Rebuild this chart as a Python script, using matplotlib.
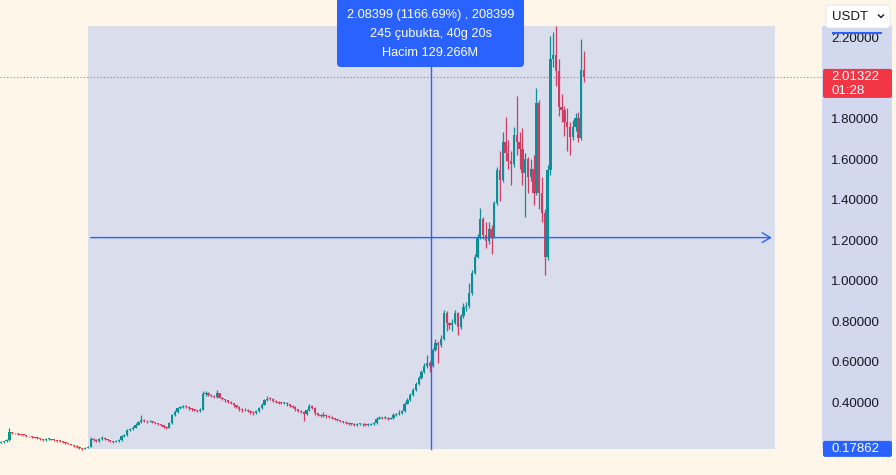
import numpy as np
import matplotlib.pyplot as plt
from matplotlib.patches import FancyBboxPatch, Rectangle

plt.rcParams['font.family'] = ['Liberation Sans', 'DejaVu Sans']

# 4h candles (open = previous close)
first_open = 0.210
closes = [0.212, 0.216, 0.222, 0.262, 0.256, 0.255, 0.252, 0.249, 0.246, 0.243,
          0.240, 0.238, 0.234, 0.231, 0.227, 0.222, 0.226, 0.228, 0.224, 0.222,
          0.219, 0.216, 0.213, 0.209, 0.205, 0.200, 0.195, 0.189, 0.182, 0.179,
          0.184, 0.190, 0.228, 0.223, 0.219, 0.226, 0.233, 0.227, 0.222, 0.218,
          0.215, 0.217, 0.221, 0.240, 0.247, 0.271, 0.277, 0.283, 0.298, 0.313,
          0.322, 0.317, 0.314, 0.316, 0.310, 0.305, 0.300, 0.295, 0.289, 0.284,
          0.305, 0.345, 0.362, 0.378, 0.385, 0.389, 0.386, 0.378, 0.373, 0.370,
          0.366, 0.372, 0.448, 0.456, 0.446, 0.440, 0.436, 0.452, 0.432, 0.425,
          0.418, 0.412, 0.404, 0.393, 0.385, 0.373, 0.368, 0.371, 0.366, 0.360,
          0.356, 0.364, 0.380, 0.397, 0.420, 0.426, 0.424, 0.416, 0.410, 0.406,
          0.404, 0.405, 0.398, 0.392, 0.384, 0.373, 0.367, 0.362, 0.352, 0.370,
          0.392, 0.380, 0.355, 0.348, 0.342, 0.347, 0.340, 0.336, 0.330, 0.326,
          0.320, 0.316, 0.311, 0.306, 0.302, 0.300, 0.297, 0.301, 0.303, 0.299,
          0.297, 0.298, 0.300, 0.304, 0.328, 0.333, 0.330, 0.333, 0.328, 0.331,
          0.345, 0.350, 0.357, 0.363, 0.402, 0.421, 0.445, 0.471, 0.500, 0.530,
          0.558, 0.585, 0.602, 0.588, 0.666, 0.701, 0.690, 0.722, 0.850, 0.800,
          0.789, 0.801, 0.850, 0.780, 0.832, 0.878, 0.882, 0.947, 1.046, 1.125,
          1.224, 1.310, 1.232, 1.206, 1.262, 1.226, 1.391, 1.554, 1.505, 1.692,
          1.640, 1.600, 1.585, 1.727, 1.690, 1.660, 1.540, 1.610, 1.520, 1.560,
          1.440, 1.885, 1.440, 1.342, 1.125, 1.554, 2.100, 2.121, 2.040, 1.865,
          1.850, 1.790, 1.766, 1.717, 1.766, 1.812, 1.712, 2.047, 2.01322]
highs = [0.216, 0.219, 0.225, 0.281, 0.264, 0.259, 0.256, 0.252, 0.249, 0.247,
         0.243, 0.241, 0.239, 0.235, 0.231, 0.228, 0.231, 0.232, 0.229, 0.225,
         0.223, 0.220, 0.217, 0.213, 0.210, 0.205, 0.200, 0.196, 0.191, 0.184,
         0.188, 0.194, 0.236, 0.231, 0.225, 0.230, 0.240, 0.235, 0.228, 0.223,
         0.219, 0.221, 0.226, 0.246, 0.254, 0.278, 0.284, 0.290, 0.304, 0.318,
         0.344, 0.326, 0.320, 0.321, 0.318, 0.313, 0.306, 0.302, 0.297, 0.292,
         0.310, 0.350, 0.368, 0.384, 0.392, 0.396, 0.393, 0.388, 0.380, 0.376,
         0.372, 0.378, 0.462, 0.466, 0.460, 0.450, 0.446, 0.468, 0.455, 0.436,
         0.426, 0.420, 0.414, 0.406, 0.395, 0.388, 0.378, 0.378, 0.375, 0.368,
         0.364, 0.370, 0.386, 0.403, 0.426, 0.438, 0.433, 0.428, 0.418, 0.414,
         0.412, 0.412, 0.409, 0.401, 0.394, 0.388, 0.376, 0.371, 0.366, 0.376,
         0.398, 0.394, 0.384, 0.356, 0.352, 0.362, 0.350, 0.344, 0.339, 0.333,
         0.328, 0.323, 0.318, 0.314, 0.309, 0.306, 0.304, 0.306, 0.308, 0.307,
         0.304, 0.304, 0.305, 0.309, 0.334, 0.340, 0.337, 0.339, 0.337, 0.336,
         0.358, 0.356, 0.368, 0.370, 0.409, 0.430, 0.452, 0.478, 0.510, 0.538,
         0.566, 0.600, 0.640, 0.610, 0.676, 0.720, 0.712, 0.740, 0.865, 0.860,
         0.805, 0.820, 0.862, 0.852, 0.845, 0.900, 0.905, 0.995, 1.060, 1.140,
         1.240, 1.365, 1.320, 1.300, 1.300, 1.285, 1.400, 1.570, 1.650, 1.740,
         1.815, 1.700, 1.650, 1.765, 1.920, 1.740, 1.760, 1.640, 1.620, 1.610,
         1.630, 1.960, 1.900, 1.520, 1.360, 1.580, 2.215, 2.235, 2.262, 2.100,
         1.930, 1.870, 1.860, 1.790, 1.800, 1.835, 1.840, 2.200, 2.140]
lows = [0.206, 0.209, 0.214, 0.218, 0.252, 0.251, 0.248, 0.246, 0.242, 0.239,
        0.236, 0.234, 0.230, 0.226, 0.222, 0.218, 0.219, 0.222, 0.220, 0.218,
        0.215, 0.212, 0.209, 0.205, 0.201, 0.196, 0.190, 0.184, 0.177, 0.175,
        0.176, 0.181, 0.187, 0.218, 0.214, 0.215, 0.222, 0.222, 0.217, 0.214,
        0.210, 0.211, 0.214, 0.218, 0.236, 0.244, 0.268, 0.272, 0.280, 0.294,
        0.308, 0.312, 0.308, 0.310, 0.305, 0.300, 0.294, 0.290, 0.284, 0.279,
        0.281, 0.300, 0.340, 0.358, 0.374, 0.380, 0.380, 0.372, 0.367, 0.364,
        0.360, 0.362, 0.368, 0.440, 0.440, 0.434, 0.430, 0.432, 0.428, 0.420,
        0.412, 0.406, 0.398, 0.386, 0.378, 0.366, 0.361, 0.364, 0.360, 0.352,
        0.348, 0.352, 0.360, 0.376, 0.394, 0.416, 0.418, 0.410, 0.404, 0.400,
        0.398, 0.398, 0.392, 0.386, 0.378, 0.366, 0.360, 0.354, 0.318, 0.346,
        0.366, 0.374, 0.346, 0.340, 0.335, 0.336, 0.333, 0.329, 0.324, 0.320,
        0.314, 0.310, 0.306, 0.300, 0.296, 0.294, 0.291, 0.293, 0.296, 0.292,
        0.291, 0.292, 0.294, 0.297, 0.300, 0.324, 0.324, 0.326, 0.322, 0.324,
        0.328, 0.340, 0.346, 0.352, 0.360, 0.398, 0.415, 0.440, 0.464, 0.494,
        0.524, 0.552, 0.578, 0.560, 0.580, 0.660, 0.600, 0.680, 0.715, 0.760,
        0.770, 0.760, 0.795, 0.740, 0.772, 0.825, 0.860, 0.875, 0.940, 1.040,
        1.120, 1.215, 1.215, 1.170, 1.190, 1.140, 1.220, 1.380, 1.400, 1.495,
        1.600, 1.560, 1.480, 1.570, 1.630, 1.560, 1.480, 1.320, 1.440, 1.500,
        1.380, 1.430, 1.360, 1.300, 1.036, 1.110, 1.530, 2.060, 1.970, 1.820,
        1.790, 1.720, 1.650, 1.630, 1.700, 1.745, 1.690, 1.700, 1.990]

price_ticks = [0.4, 0.6, 0.8, 1.0, 1.2, 1.4, 1.6, 1.8, 2.2]

# date/price range tool
range_start = 31
range_bars = 245
range_low = 0.17862
range_change = 2.08399
tooltip_lines = ['2.08399 (1166.69%) , 208399', '245 çubukta, 40g 20s', 'Hacim 129.266M']
countdown = '01:28'

BG = '#fdf6e9'
UP = '#089981'
DOWN = '#f23645'
BLUE = '#2962ff'

o = np.array([first_open] + closes[:-1])
c = np.array(closes)
h = np.array(highs)
l = np.array(lows)
idx = np.arange(len(c))
cols = np.where(c >= o, UP, DOWN)

W, H = 896, 475
fig = plt.figure(figsize=(W / 100, H / 100), dpi=100, facecolor=BG)
ax = fig.add_axes([0, 0, 822 / W, 1])
ax.set_facecolor(BG)
ax.set_xlim(-0.36, 292.9)
ax.set_ylim(0.0498, 2.3925)
ax.axis('off')

ax.vlines(idx, l, h, colors=cols, lw=0.9, zorder=2)
ax.bar(idx, np.maximum(np.abs(c - o), 0.004), bottom=np.minimum(o, c),
       width=0.82, color=cols, zorder=2)

range_end = range_start + range_bars
range_high = range_low + range_change
mid_x = (range_start + range_end) / 2
mid_y = (range_low + range_high) / 2
ax.add_patch(Rectangle((range_start, range_low), range_bars, range_change,
                       facecolor=BLUE, alpha=0.17, lw=0, zorder=3))
ax.annotate('', xy=(range_end, mid_y), xytext=(range_start, mid_y),
            arrowprops=dict(arrowstyle='->,head_length=0.6,head_width=0.35',
                            color=BLUE, lw=1), zorder=4)
ax.plot([mid_x, mid_x], [range_low, range_high], color=BLUE, lw=1, zorder=4)
ax.axhline(c[-1], color=DOWN, lw=0.8, ls=(0, (1, 2)), alpha=0.8, zorder=1)

# price scale
sc = fig.add_axes([822 / W, 0, 74 / W, 1])
sc.set_facecolor(BG)
sc.set_xlim(0, 74)
sc.set_ylim(ax.get_ylim())
sc.axis('off')
sc.add_patch(Rectangle((0, range_low), 70, range_change, facecolor=BLUE,
                       alpha=0.2, lw=0))
for t in price_ticks:
    sc.text(9, t, f'{t:.5f}', fontsize=9.5, color='#131722', va='center')


def px_y(v):
    return H - ax.transData.transform((0, v))[1]


# overlay in pixel units for the labels / buttons
ov = fig.add_axes([0, 0, 1, 1], zorder=10)
ov.set_xlim(0, W)
ov.set_ylim(H, 0)
ov.axis('off')
ov.patch.set_alpha(0)

# range labels on the scale (top one sits under the currency button)
yy = px_y(range_low)
ov.add_patch(FancyBboxPatch((823, yy - 8), 69, 16, boxstyle='round,pad=0,rounding_size=2',
                            facecolor=BLUE, lw=0))
ov.text(831, yy, f'{range_low:.5f}', fontsize=9.5, color='white', va='center')
yy = px_y(range_high)
ov.add_patch(Rectangle((832, yy + 6), 50, 2, facecolor=BLUE, lw=0))

# last price label
yy = px_y(c[-1])
ov.add_patch(FancyBboxPatch((823, yy - 8), 69, 29, boxstyle='round,pad=0,rounding_size=2',
                            facecolor=DOWN, lw=0))
ov.text(831, yy, f'{c[-1]:.5f}', fontsize=9.5, color='white', va='center')
ov.text(831, yy + 14, countdown, fontsize=9.5, color='white', va='center')

# currency button
ov.add_patch(FancyBboxPatch((826, 5), 64, 23, boxstyle='round,pad=0,rounding_size=3',
                            facecolor='white', edgecolor='#e0e3eb', lw=0.6))
ov.text(832, 16.5, 'USDT', fontsize=9.5, color='#131722', va='center')
ov.plot([878.5, 881, 883.5], [15, 17.5, 15], color='#131722', lw=1)

# tooltip
ov.add_patch(FancyBboxPatch((337, -8), 187, 75, boxstyle='round,pad=0,rounding_size=4',
                            facecolor=BLUE, lw=0))
for ty, s in zip([15, 34, 53], tooltip_lines):
    ov.text(430.5, ty, s, fontsize=9.2, color='white', ha='center', va='center')

fig.savefig('out.png', dpi=100, facecolor=BG)
